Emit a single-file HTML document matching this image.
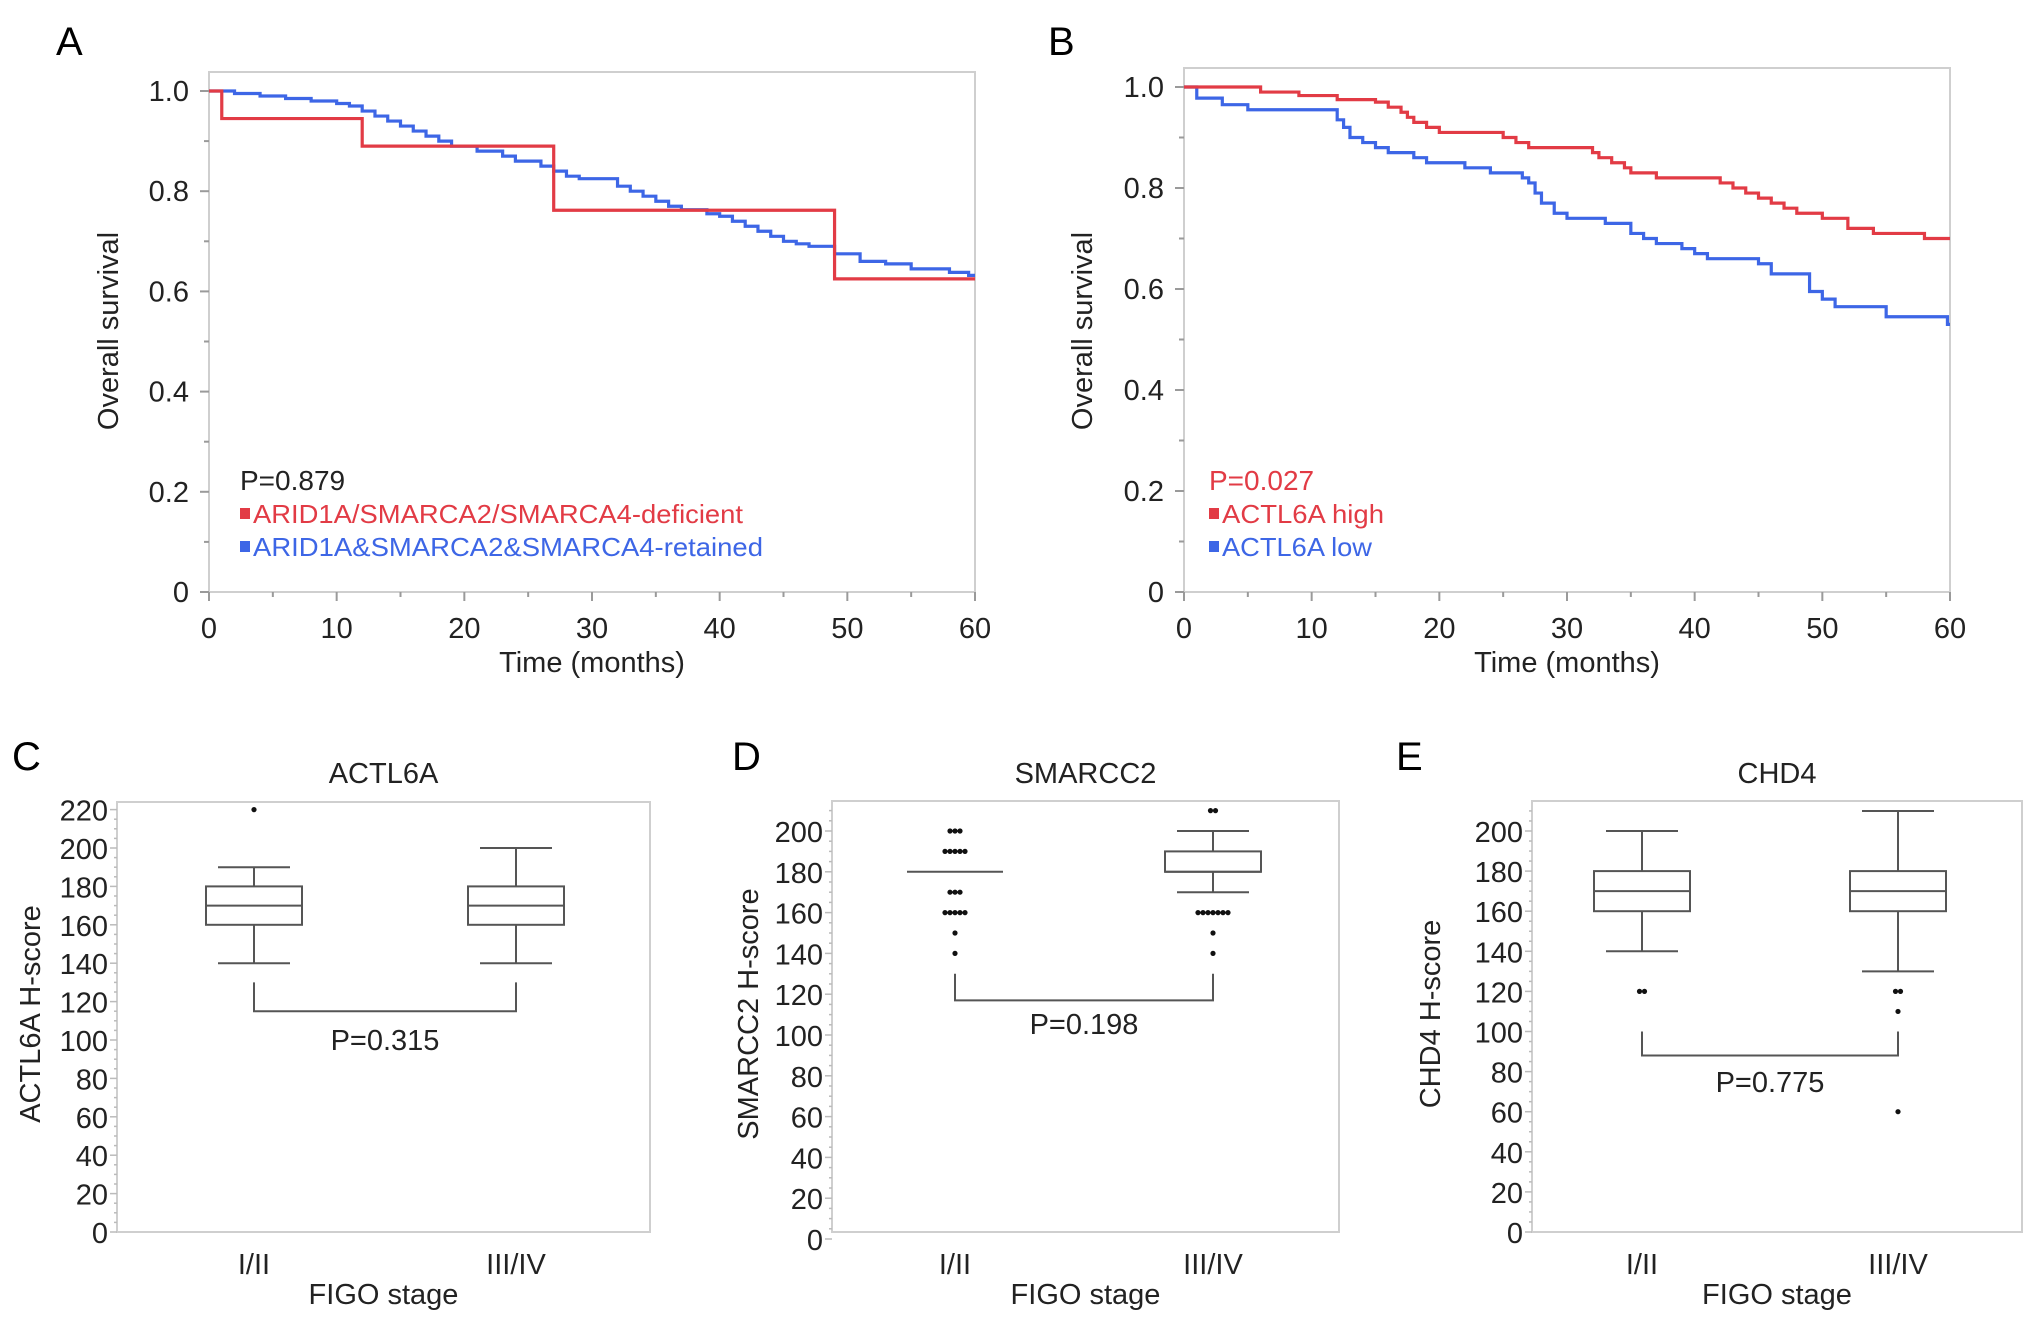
<!DOCTYPE html>
<html><head><meta charset="utf-8"><style>
html,body{margin:0;padding:0;background:#fff;}
svg{display:block;font-family:"Liberation Sans",Arial,sans-serif;}
</style></head><body>
<svg id="fig" width="2032" height="1318" viewBox="0 0 2032 1318" xmlns="http://www.w3.org/2000/svg">
<rect width="2032" height="1318" fill="#fff"/>
<g id="root"></g>
</svg>
<script>
// ---- KM panel A data ----
const kmTicksX = [0,10,20,30,40,50,60];
const kmTicksY = [0,0.2,0.4,0.6,0.8,1.0];
const kmTickLabelsY = ["0","0.2","0.4","0.6","0.8","1.0"];
const aRedT = [1,12,27,49];
const aRedS = [0.945,0.89,0.762,0.625];
const aBlueT = [2,4,6,8,10,11,12,13,14,15,16,17,18,19,21,23,24,26,27,28,29,32,33,34,35,36,37,39,40,41,42,43,44,45,46,47,49,51,53,55,58,59.5];
const aBlueS = [0.995,0.99,0.985,0.98,0.975,0.97,0.96,0.95,0.94,0.93,0.92,0.91,0.9,0.89,0.88,0.87,0.86,0.85,0.84,0.83,0.825,0.81,0.8,0.79,0.78,0.77,0.763,0.755,0.75,0.74,0.73,0.72,0.71,0.7,0.695,0.69,0.675,0.66,0.655,0.645,0.638,0.632];
// ---- KM panel B data ----
const bRedT = [6,9,12,15,16,17,17.5,18,19,20,25,26,27,32,32.5,33.5,34.5,35,37,42,43,44,45,46,47,48,50,52,54,58];
const bRedS = [0.99,0.983,0.975,0.97,0.96,0.95,0.94,0.93,0.92,0.91,0.9,0.89,0.88,0.87,0.86,0.85,0.84,0.83,0.82,0.81,0.8,0.79,0.78,0.77,0.76,0.75,0.74,0.72,0.71,0.70];
const bBlueT = [1,3,5,12,12.5,13,14,15,16,18,19,22,24,26.5,27,27.5,28,29,30,33,35,36,37,39,40,41,45,46,49,50,51,55,59.8];
const bBlueS = [0.978,0.965,0.955,0.935,0.92,0.90,0.89,0.88,0.87,0.86,0.85,0.84,0.83,0.82,0.81,0.79,0.77,0.75,0.74,0.73,0.71,0.70,0.69,0.68,0.67,0.66,0.65,0.63,0.595,0.58,0.565,0.545,0.53];
// ---- Box plot data: [whiskerLo, q1, median, q3, whiskerHi] ----
const boxCategories = ["I/II","III/IV"];
const cStats = [[140,160,170,180,190],[140,160,170,180,200]];
const cOutliers = [[220],[]];
const dStats = [[180,180,180,180,180],[170,180,180,190,200]];
const dOutliers = [[200,200,200,190,190,190,190,190,170,170,170,160,160,160,160,160,150,140],[210,210,160,160,160,160,160,160,160,150,140]];
const eStats = [[140,160,170,180,200],[130,160,170,180,210]];
const eOutliers = [[120,120],[120,120,110,60]];
const cTicks = [0,20,40,60,80,100,120,140,160,180,200,220];
const deTicks = [0,20,40,60,80,100,120,140,160,180,200];

const NS="http://www.w3.org/2000/svg";
const root=document.getElementById('root');
function el(tag,attrs,parent){const e=document.createElementNS(NS,tag);for(const k in attrs)e.setAttribute(k,attrs[k]);(parent||root).appendChild(e);return e;}
function txt(s,attrs,parent){const e=el('text',attrs,parent);e.textContent=s;return e;}

const RED="#e23b45", BLUE="#3d66e6", FRAME="#cfcfcf", TICK="#9a9a9a";

function kmPanel(cfg){
  const g=el('g',{});
  
  
  const X=v=>cfg.x0+(v/60)*(cfg.x1-cfg.x0);
  const Y=v=>cfg.y0-v*(cfg.y0-cfg.y1);
  const fr=el('rect',{x:cfg.x0,y:cfg.top,width:cfg.x1-cfg.x0,height:cfg.y0-cfg.top,fill:'none',stroke:FRAME,'stroke-width':2},g);
  
  
  for(let m=0;m<=60;m+=5){el('line',{x1:X(m),x2:X(m),y1:cfg.y0,y2:cfg.y0+(m%10?5:9),stroke:TICK,'stroke-width':2},g);}
  for(let m=0;m<=10;m++){el('line',{x1:cfg.x0,x2:cfg.x0-(m%2?5:9),y1:Y(m/10),y2:Y(m/10),stroke:TICK,'stroke-width':2},g);}
  kmTicksX.forEach(v=>{const t=txt(String(v),{x:X(v),y:cfg.y0+46,'font-size':29,'text-anchor':'middle',fill:'#222'},g);
    });
  kmTicksY.forEach((v,i)=>{const t=txt(kmTickLabelsY[i],{x:cfg.x0-20,y:Y(v)+10,'font-size':29,'text-anchor':'end',fill:'#222'},g);
    });
  const xt=txt('Time (months)',{x:(cfg.x0+cfg.x1)/2,y:cfg.y0+80,'font-size':29,'text-anchor':'middle',fill:'#222'},g);
  
  const yt=txt('Overall survival',{x:0,y:0,'font-size':29,'text-anchor':'middle',fill:'#222',transform:`translate(${cfg.ylx},331) rotate(-90)`},g);
  
  const lt=txt(cfg.letter,{x:cfg.lx,y:55,'font-size':40,fill:'#000'},g);
  
  cfg.series.forEach(s=>{
    let d=`M${X(0)},${Y(1)}`;
    for(let i=0;i<s.t.length;i++){d+=` H${X(s.t[i])} V${Y(s.s[i])}`;}
    d+=` H${X(60)}`;
    if(s.s.length>s.t.length){d+=` V${Y(s.s[s.s.length-1])}`;}
    const p=el('path',{d:d,fill:'none',stroke:s.color,'stroke-width':3.2},g);
    
  });
  const pv=txt(cfg.p,{x:cfg.px,y:490,'font-size':28,fill:cfg.pcolor},g);
  
  cfg.legend.forEach((L,i)=>{
    const yy=523+i*33;
    const lg=el('g',{},g);
    
    el('rect',{x:cfg.px,y:yy-15,width:10,height:11,fill:L.color},lg);
    const a={x:cfg.px+13,y:yy,'font-size':26,fill:L.color};
    if(L.w){a.textLength=L.w;a.lengthAdjust='spacingAndGlyphs';}
    txt(L.text,a,lg);
  });
}

kmPanel({name:'km-panel-a',letter:'A',lx:56,x0:209,x1:975,top:72,y0:592,y1:91,ylx:118,px:240,p:'P=0.879',pcolor:'#222',
  series:[{t:aBlueT,s:aBlueS,color:BLUE,name:'retained-curve'},{t:aRedT,s:aRedS,color:RED,name:'deficient-curve'}],
  legend:[{text:'ARID1A/SMARCA2/SMARCA4-deficient',color:RED,w:490},{text:'ARID1A&SMARCA2&SMARCA4-retained',color:BLUE,w:510}]});
kmPanel({name:'km-panel-b',letter:'B',lx:1048,x0:1184,x1:1950,top:68,y0:592,y1:87,ylx:1092,px:1209,p:'P=0.027',pcolor:RED,
  series:[{t:bBlueT,s:bBlueS,color:BLUE,name:'actl6a-low-curve'},{t:bRedT,s:bRedS,color:RED,name:'actl6a-high-curve'}],
  legend:[{text:'ACTL6A high',color:RED,w:162},{text:'ACTL6A low',color:BLUE,w:150}]});

function boxPanel(cfg){
  const g=el('g',{});
  
  
  const Y=v=>cfg.zero-v*cfg.k;
  const xs=[cfg.xa,cfg.xb];
  const fr=el('rect',{x:cfg.x0,y:cfg.top,width:cfg.x1-cfg.x0,height:cfg.bottom-cfg.top,fill:'none',stroke:FRAME,'stroke-width':2},g);
  
  for(let v=0;v<=cfg.ticks[cfg.ticks.length-1]+10;v+=5){
    const yy=Y(v); if(yy<cfg.top) break;
    el('line',{x1:cfg.x0,x2:cfg.x0-(v%20?3:7),y1:yy,y2:yy,stroke:'#bbb','stroke-width':1.5},g);
  }
  cfg.ticks.forEach(v=>{const t=txt(String(v),{x:cfg.x0-9,y:Y(v)+11,'font-size':29,'text-anchor':'end',fill:'#222'},g);
    });
  boxCategories.forEach((c,i)=>{const t=txt(c,{x:xs[i],y:1274,'font-size':29,'text-anchor':'middle',fill:'#222'},g);
    });
  const xt=txt('FIGO stage',{x:(cfg.x0+cfg.x1)/2,y:1304,'font-size':29,'text-anchor':'middle',fill:'#222'},g);
  
  const yt=txt(cfg.ylabel,{x:0,y:0,'font-size':29,'text-anchor':'middle',fill:'#222',transform:`translate(${cfg.ylx},${cfg.ylc}) rotate(-90)`},g);
  
  const tt=txt(cfg.title,{x:(cfg.x0+cfg.x1)/2,y:783,'font-size':29,'text-anchor':'middle',fill:'#222'},g);
  
  const lt=txt(cfg.letter,{x:cfg.lx,y:770,'font-size':40,fill:'#000'},g);
  
  const hw=48, cw=36, C='#555';
  cfg.stats.forEach((s,i)=>{
    const x=xs[i];
    const bg=el('g',{},g);
    
    el('line',{x1:x,x2:x,y1:Y(s[0]),y2:Y(s[1]),stroke:C,'stroke-width':2},bg);
    el('line',{x1:x,x2:x,y1:Y(s[3]),y2:Y(s[4]),stroke:C,'stroke-width':2},bg);
    if(s[0]!==s[1]) el('line',{x1:x-cw,x2:x+cw,y1:Y(s[0]),y2:Y(s[0]),stroke:C,'stroke-width':2},bg);
    if(s[4]!==s[3]) el('line',{x1:x-cw,x2:x+cw,y1:Y(s[4]),y2:Y(s[4]),stroke:C,'stroke-width':2},bg);
    el('rect',{x:x-hw,y:Y(s[3]),width:2*hw,height:Y(s[1])-Y(s[3]),fill:'none',stroke:C,'stroke-width':2},bg);
    el('line',{x1:x-hw,x2:x+hw,y1:Y(s[2]),y2:Y(s[2]),stroke:C,'stroke-width':2},bg);
    const counts={};
    cfg.outliers[i].forEach(v=>{counts[v]=(counts[v]||0)+1;});
    Object.keys(counts).forEach(v=>{
      const n=counts[v];
      for(let j=0;j<n;j++){
        const dot=el('circle',{cx:x+(j-(n-1)/2)*5,cy:Y(+v),r:2.6,fill:'#111'},bg);
        
      }
    });
  });
  const br=el('path',{d:`M${xs[0]},${Y(cfg.brTop)} V${Y(cfg.brBot)} H${xs[1]} V${Y(cfg.brTop)}`,fill:'none',stroke:'#555','stroke-width':2},g);
  
  const pv=txt(cfg.p,{x:(xs[0]+xs[1])/2,y:cfg.py,'font-size':29,'text-anchor':'middle',fill:'#222'},g);
  
}

boxPanel({name:'box-panel-c',letter:'C',lx:12,title:'ACTL6A',ylabel:'ACTL6A H-score',ylx:40,ylc:1014,
  x0:117,x1:650,top:802,bottom:1232,zero:1232,k:1.92,xa:254,xb:516,ticks:cTicks,stats:cStats,outliers:cOutliers,
  brTop:130,brBot:115,p:'P=0.315',py:1050});
boxPanel({name:'box-panel-d',letter:'D',lx:732,title:'SMARCC2',ylabel:'SMARCC2 H-score',ylx:758,ylc:1014,
  x0:832,x1:1339,top:801,bottom:1232,zero:1239,k:2.04,xa:955,xb:1213,ticks:deTicks,stats:dStats,outliers:dOutliers,
  brTop:130,brBot:117,p:'P=0.198',py:1034});
boxPanel({name:'box-panel-e',letter:'E',lx:1396,title:'CHD4',ylabel:'CHD4 H-score',ylx:1440,ylc:1014,
  x0:1532,x1:2022,top:801,bottom:1232,zero:1232,k:2.005,xa:1642,xb:1898,ticks:deTicks,stats:eStats,outliers:eOutliers,
  brTop:100,brBot:88,p:'P=0.775',py:1092});
</script>
</body></html>
